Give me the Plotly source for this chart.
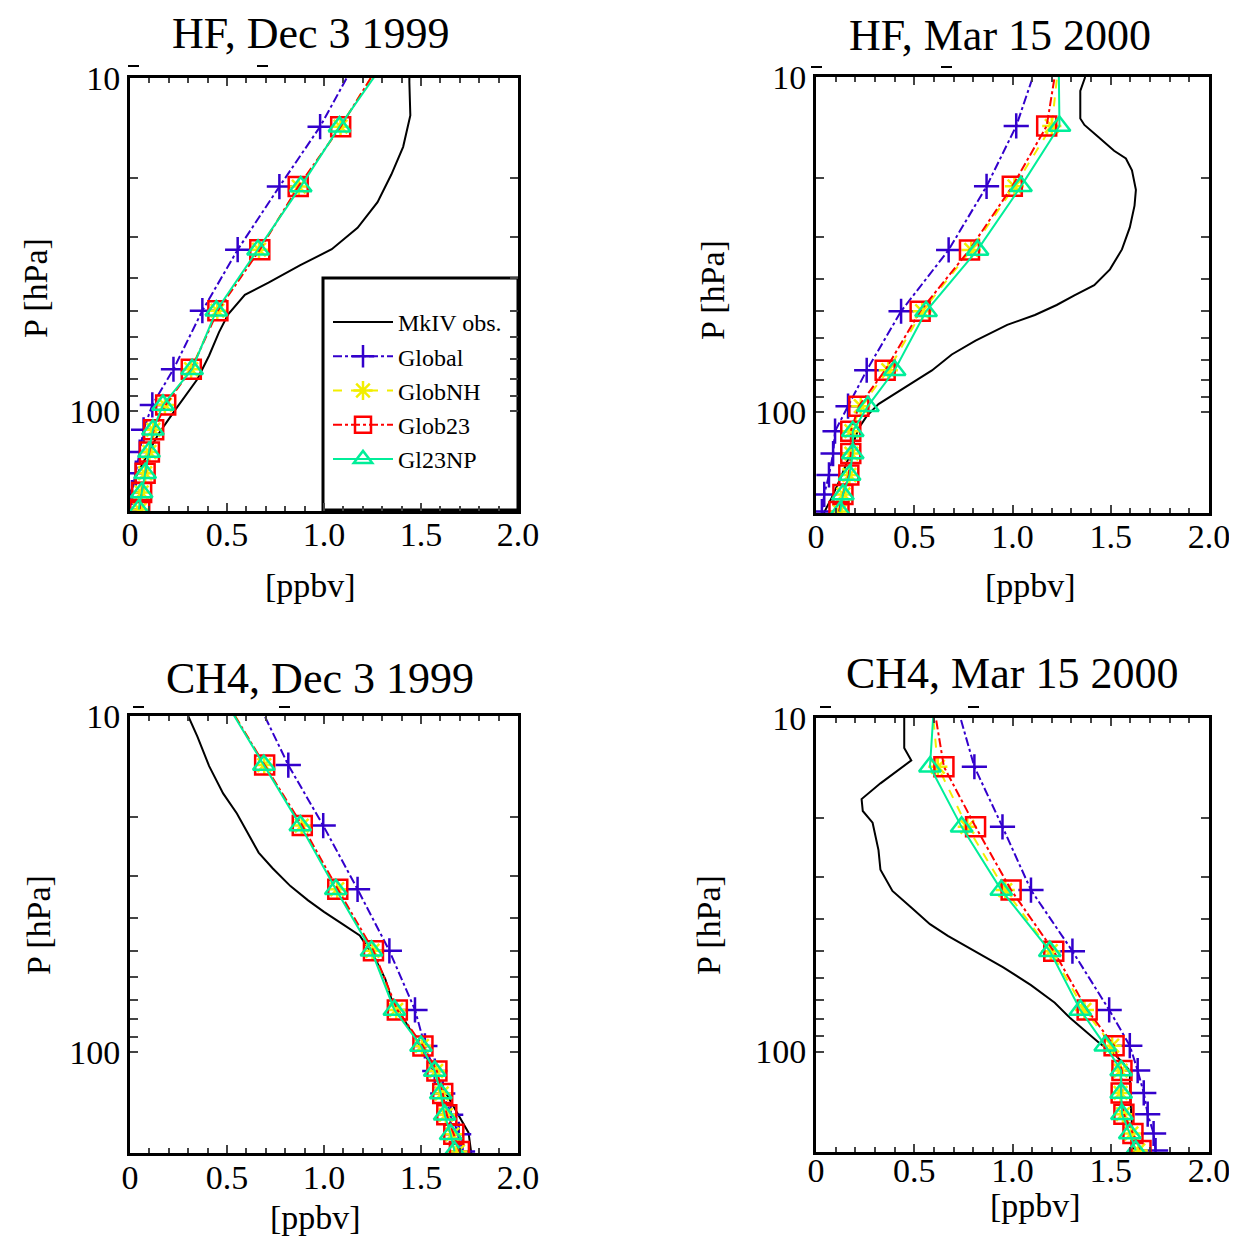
import math
import plotly.graph_objects as go

W, H = 1237, 1236
OFF = 8  # page body margin; figure is drawn that far in from the window edge

# model pressure levels [hPa] (top level lies above the 10 hPa axis limit)
P_MODEL = [9.0, 14.0, 21.2, 32.8, 50.0, 75.0, 96.0, 114.0, 133.0, 154.0, 176.0, 198.0]

# ---- HF, Dec 3 1999
HF_DEC_P_OBS = [10, 10.3, 12.95, 16.1, 19.5, 23.6, 28.2, 32.7, 36.5, 41.2, 44.8, 51.3, 58, 68.2,
                80.4, 89.7, 99, 108, 118, 135, 158, 178, 200]
HF_DEC_OBS = [1.44, 1.44, 1.445, 1.408, 1.347, 1.276, 1.173, 1.04, 0.878, 0.714, 0.592, 0.506, 0.459,
              0.408, 0.347, 0.286, 0.235, 0.19, 0.144, 0.09, 0.03, 0.0, -0.02]
HF_DEC_GLOBAL = [1.16, 0.98, 0.77, 0.555, 0.373, 0.224, 0.115, 0.07, 0.05, 0.03, 0.01, 0.0]
HF_DEC_GLOBNH = [1.29, 1.085, 0.87, 0.665, 0.45, 0.315, 0.18, 0.12, 0.10, 0.078, 0.06, 0.05]
HF_DEC_GLOB23 = [1.29, 1.086, 0.867, 0.669, 0.453, 0.316, 0.184, 0.122, 0.10, 0.078, 0.06, 0.05]
HF_DEC_GL23NP = [1.31, 1.08, 0.88, 0.66, 0.445, 0.32, 0.17, 0.118, 0.098, 0.078, 0.06, 0.045]

# ---- HF, Mar 15 2000
HF_MAR_P_OBS = [10, 11.0, 13.3, 13.9, 15.1, 16.6, 17.5, 19.0, 21.7, 24.2, 28.1, 32.7, 37.5, 41.8, 44.8,
                47.9, 51.3, 54.9, 61.2, 67.3, 75.1, 80.4, 87.1, 94.6, 102.8, 111.5, 119, 135, 155, 180, 200]
HF_MAR_OBS = [1.37, 1.345, 1.345, 1.366, 1.437, 1.517, 1.577, 1.608, 1.628, 1.621, 1.597, 1.557, 1.496,
              1.416, 1.315, 1.225, 1.114, 0.973, 0.812, 0.691, 0.59, 0.51, 0.409, 0.318, 0.258, 0.218,
              0.2, 0.17, 0.13, 0.08, 0.04]
HF_MAR_GLOBAL = [1.13, 1.019, 0.868, 0.675, 0.433, 0.258, 0.163, 0.097, 0.087, 0.066, 0.042, 0.03]
HF_MAR_GLOBNH = [1.235, 1.2, 1.01, 0.79, 0.54, 0.368, 0.228, 0.18, 0.18, 0.17, 0.14, 0.12]
HF_MAR_GLOB23 = [1.227, 1.174, 0.999, 0.781, 0.53, 0.352, 0.218, 0.177, 0.177, 0.167, 0.137, 0.117]
HF_MAR_GL23NP = [1.235, 1.239, 1.043, 0.822, 0.56, 0.4, 0.264, 0.187, 0.187, 0.171, 0.137, 0.123]

# ---- CH4, Dec 3 1999
CH4_DEC_P_OBS = [10, 11.5, 14.1, 17.0, 19.5, 22.6, 25.5, 28.4, 32.1, 35.4, 38.3, 41.5, 45.0, 52.9,
                 60.7, 69.4, 79.5, 88.5, 101.4, 122, 140, 158, 174, 202]
CH4_DEC_OBS = [0.3, 0.347, 0.408, 0.48, 0.551, 0.612, 0.663, 0.735, 0.827, 0.918, 1.0, 1.092, 1.184,
               1.265, 1.316, 1.347, 1.408, 1.459, 1.52, 1.592, 1.653, 1.704, 1.745, 1.76]
CH4_DEC_GLOBAL = [0.656, 0.816, 0.996, 1.173, 1.337, 1.469, 1.52, 1.571, 1.612, 1.653, 1.694, 1.714]
CH4_DEC_GLOBNH = [0.495, 0.692, 0.885, 1.068, 1.25, 1.372, 1.505, 1.578, 1.607, 1.628, 1.662, 1.69]
CH4_DEC_GLOB23 = [0.493, 0.694, 0.888, 1.071, 1.255, 1.378, 1.51, 1.582, 1.612, 1.633, 1.669, 1.698]
CH4_DEC_GL23NP = [0.49, 0.69, 0.878, 1.061, 1.245, 1.363, 1.5, 1.571, 1.602, 1.622, 1.653, 1.673]

# ---- CH4, Mar 15 2000
CH4_MAR_P_OBS = [10, 12.3, 13.4, 14.5, 15.7, 17.5, 19.0, 20.6, 24.9, 28.5, 33.0, 37.2, 41.5, 45.0,
                 50.2, 55.9, 63.2, 71.4, 79.5, 88.5, 94.7, 101.4, 114, 140, 170, 200]
CH4_MAR_OBS = [0.449, 0.449, 0.485, 0.409, 0.328, 0.232, 0.238, 0.288, 0.318, 0.328, 0.389, 0.489,
               0.58, 0.671, 0.812, 0.953, 1.094, 1.215, 1.295, 1.386, 1.446, 1.517, 1.597, 1.6, 1.61, 1.617]
CH4_MAR_GLOBAL = [0.713, 0.806, 0.949, 1.094, 1.305, 1.492, 1.597, 1.637, 1.668, 1.688, 1.718, 1.728]
CH4_MAR_GLOBNH = [0.59, 0.62, 0.77, 0.963, 1.195, 1.366, 1.507, 1.55, 1.55, 1.562, 1.605, 1.64]
CH4_MAR_GLOB23 = [0.597, 0.651, 0.812, 0.993, 1.21, 1.38, 1.517, 1.557, 1.553, 1.567, 1.613, 1.654]
CH4_MAR_GL23NP = [0.601, 0.58, 0.741, 0.943, 1.19, 1.345, 1.472, 1.553, 1.553, 1.557, 1.597, 1.627]

TITLES = ["HF, Dec 3 1999", "HF, Mar 15 2000", "CH4, Dec 3 1999", "CH4, Mar 15 2000"]
X_TICKS = [0, 0.5, 1.0, 1.5, 2.0]
X_TICKTEXT = ["0", "0.5", "1.0", "1.5", "2.0"]
Y_TICKS = [10, 100]
Y_TICKTEXT = ["10", "100"]

panels = [
    (HF_DEC_P_OBS, HF_DEC_OBS, [HF_DEC_GLOBAL, HF_DEC_GLOBNH, HF_DEC_GLOB23, HF_DEC_GL23NP]),
    (HF_MAR_P_OBS, HF_MAR_OBS, [HF_MAR_GLOBAL, HF_MAR_GLOBNH, HF_MAR_GLOB23, HF_MAR_GL23NP]),
    (CH4_DEC_P_OBS, CH4_DEC_OBS, [CH4_DEC_GLOBAL, CH4_DEC_GLOBNH, CH4_DEC_GLOB23, CH4_DEC_GL23NP]),
    (CH4_MAR_P_OBS, CH4_MAR_OBS, [CH4_MAR_GLOBAL, CH4_MAR_GLOBNH, CH4_MAR_GLOB23, CH4_MAR_GL23NP]),
]

MODELS = ["Global", "GlobNH", "Glob23", "Gl23NP"]
STYLES = {
    "Global": dict(color="#3300cc", dash="dashdot", symbol="cross-thin", size=18),
    "GlobNH": dict(color="#f2ee00", dash="dash", symbol="asterisk", size=16),
    "Glob23": dict(color="#ff0000", dash="dashdot", symbol="square-open", size=19),
    "Gl23NP": dict(color="#00ee99", dash="solid", symbol="triangle-up-open", size=19),
}

# plot boxes in window pixels: left, right, top, bottom
BOXES = [(130, 518, 78, 511), (816, 1209, 77, 513), (130, 518, 716, 1153), (816, 1209, 718, 1152)]
TITLE_POS = [(311, 33), (1000, 35), (320, 678), (1012, 673)]
XLAB_POS = [(310, 585), (1030, 585), (315, 1217), (1035, 1205)]
YLAB_POS = [(35, 288), (712, 290), (38, 925), (708, 925)]
DASH_MARKS = [(133, 66), (262, 66), (816, 67), (946, 67), (138, 707), (284, 707), (825, 707), (973, 707)]
LABEL_SHIFT = [-9, -9, -8, -14]

FONT = "Liberation Serif, Times New Roman, serif"
FW, FH = W - OFF, H - OFF


def px(x):
    return (x - OFF) / FW


def py(y):
    return 1 - (y - OFF) / FH


fig = go.Figure()

for i, (p_obs, obs, models) in enumerate(panels):
    n = "" if i == 0 else str(i + 1)
    first = i == 0
    fig.add_trace(go.Scatter(x=obs, y=p_obs, mode="lines", name="MkIV obs.",
                             line=dict(color="black", width=2),
                             xaxis="x" + n, yaxis="y" + n, showlegend=first))
    for name, vals in zip(MODELS, models):
        st = STYLES[name]
        fig.add_trace(go.Scatter(
            x=vals, y=P_MODEL, mode="lines+markers", name=name,
            line=dict(color=st["color"], width=2, dash=st["dash"]),
            marker=dict(symbol=st["symbol"], size=st["size"], color=st["color"],
                        line=dict(color=st["color"], width=2.5)),
            xaxis="x" + n, yaxis="y" + n, showlegend=first))

    l, r, t, b = BOXES[i]
    fig.layout["xaxis" + n] = dict(
        domain=[px(l), px(r)], anchor="y" + n, range=[0, 2.0], automargin=False,
        tickvals=X_TICKS, ticktext=X_TICKTEXT, ticks="inside", ticklen=8, tickwidth=2,
        ticklabelstandoff=LABEL_SHIFT[i],
        minor=dict(dtick=0.1, ticks="inside", ticklen=5, tickwidth=2),
        showline=True, linewidth=3, linecolor="black", mirror="allticks",
        showgrid=False, zeroline=False, tickfont=dict(family=FONT, size=34, color="black"))
    fig.layout["yaxis" + n] = dict(
        domain=[py(b), py(t)], anchor="x" + n, type="log", automargin=False,
        range=[math.log10(200), 1],
        tickvals=Y_TICKS, ticktext=Y_TICKTEXT, ticks="inside", ticklen=8, tickwidth=2,
        minor=dict(tickvals=[20, 30, 40, 50, 60, 70, 80, 90], ticks="inside", ticklen=8, tickwidth=2),
        showline=True, linewidth=3, linecolor="black", mirror="allticks",
        showgrid=False, zeroline=False, tickfont=dict(family=FONT, size=34, color="black"))

annotations = []
for i in range(4):
    tx, ty = TITLE_POS[i]
    annotations.append(dict(text=TITLES[i], x=px(tx), y=py(ty), xref="paper", yref="paper",
                            xanchor="center", yanchor="middle", showarrow=False, borderpad=0,
                            font=dict(family=FONT, size=44, color="black")))
    xx, xy = XLAB_POS[i]
    annotations.append(dict(text="[ppbv]", x=px(xx), y=py(xy), xref="paper", yref="paper",
                            xanchor="center", yanchor="middle", showarrow=False,
                            font=dict(family=FONT, size=34, color="black")))
    yx, yy = YLAB_POS[i]
    annotations.append(dict(text="P [hPa]", x=px(yx), y=py(yy), xref="paper", yref="paper",
                            xanchor="center", yanchor="middle", textangle=-90, showarrow=False,
                            font=dict(family=FONT, size=34, color="black")))

shapes = [dict(type="rect", xref="paper", yref="paper", x0=px(323), x1=px(518), y0=py(510), y1=py(278),
               line=dict(color="black", width=3), fillcolor="white", layer="below")]
for mx, my in DASH_MARKS:
    shapes.append(dict(type="line", xref="paper", yref="paper", x0=px(mx - 5), x1=px(mx + 6),
                       y0=py(my), y1=py(my), line=dict(color="black", width=2)))

fig.update_layout(
    width=FW, height=FH, margin=dict(l=0, r=0, t=0, b=0, autoexpand=False),
    paper_bgcolor="white", plot_bgcolor="rgba(0,0,0,0)",
    annotations=annotations, shapes=shapes,
    legend=dict(x=px(328), y=py(300), xanchor="left", yanchor="top",
                bgcolor="rgba(0,0,0,0)", borderwidth=0, itemwidth=60,
                font=dict(family=FONT, size=24, color="black"), tracegroupgap=4),
)

fig.write_html("out.html")
